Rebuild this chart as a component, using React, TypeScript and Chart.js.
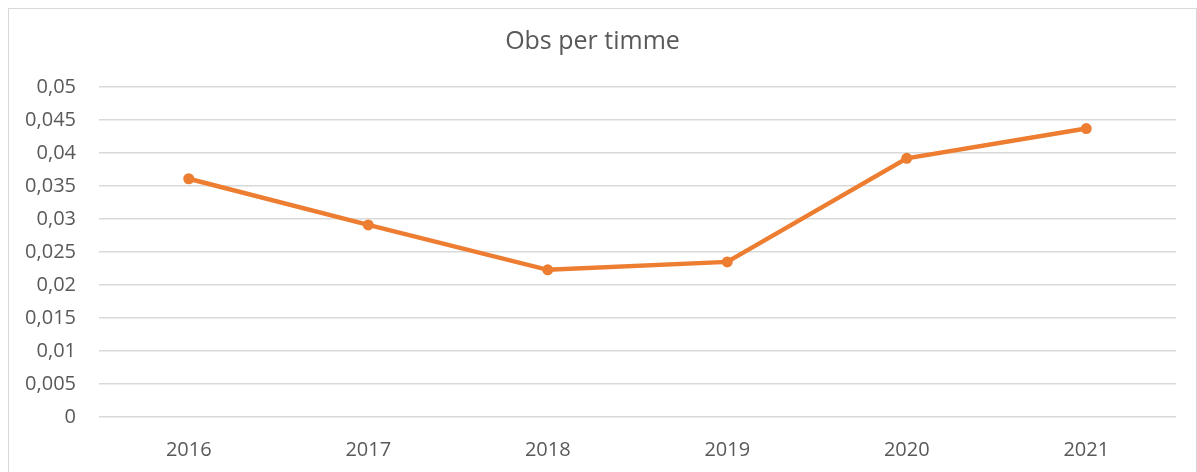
import React, { useEffect, useRef } from "react";
import { Chart, registerables } from "chart.js";

Chart.register(...registerables);

const TITLE = "Obs per timme";
const CATEGORIES = ["2016", "2017", "2018", "2019", "2020", "2021"];
const VALUES = [0.0361, 0.0291, 0.0223, 0.0235, 0.0392, 0.0437];
const Y_TICK_LABELS = ["0", "0,005", "0,01", "0,015", "0,02", "0,025", "0,03", "0,035", "0,04", "0,045", "0,05"];

const FONT = "'Open Sans', 'Noto Sans', sans-serif";
const TEXT = "#595959";
const GRID = "#d9d9d9";
const ORANGE = "#ED7D31";

export default function App() {
  const ref = useRef<HTMLCanvasElement | null>(null);

  useEffect(() => {
    document.body.style.overflow = "hidden";
    const canvas = ref.current;
    if (!canvas) return;
    const chart = new Chart(canvas, {
      type: "line",
      data: {
        labels: CATEGORIES,
        datasets: [
          {
            data: VALUES,
            borderColor: ORANGE,
            backgroundColor: ORANGE,
            borderWidth: 4.5,
            pointRadius: 5.5,
            pointBorderWidth: 0,
            pointBackgroundColor: ORANGE,
            tension: 0,
          },
        ],
      },
      options: {
        animation: false,
        responsive: false,
        maintainAspectRatio: false,
        layout: { padding: { left: 0, right: 20, top: 0, bottom: 0 } },
        plugins: {
          legend: { display: false },
          tooltip: { enabled: false },
          title: {
            display: true,
            text: TITLE,
            color: TEXT,
            font: { family: FONT, size: 25, weight: "normal" },
            padding: { top: 18, bottom: 30 },
          },
        },
        scales: {
          x: {
            offset: true,
            grid: { display: false, drawTicks: false },
            border: { display: false },
            ticks: {
              color: TEXT,
              font: { family: FONT, size: 20 },
              padding: 21,
              maxRotation: 0,
            },
            afterFit: (s: any) => {
              s.height = 463 - 408;
            },
          },
          y: {
            min: 0,
            max: 0.05,
            grid: { color: GRID, lineWidth: 1.5, drawTicks: false },
            border: { display: false },
            ticks: {
              stepSize: 0.005,
              color: TEXT,
              font: { family: FONT, size: 20 },
              padding: 23,
              callback: (_v: any, i: number) => Y_TICK_LABELS[i],
            },
            afterFit: (s: any) => {
              s.width = 90;
            },
          },
        },
      },
    });
    return () => chart.destroy();
  }, []);

  return (
    <div
      style={{
        position: "absolute",
        left: 8,
        top: 8,
        width: 1187,
        height: 480,
        border: "1px solid #d9d9d9",
        background: "#fff",
      }}
    >
      <canvas ref={ref} width={1187} height={463} style={{ display: "block" }} />
    </div>
  );
}
